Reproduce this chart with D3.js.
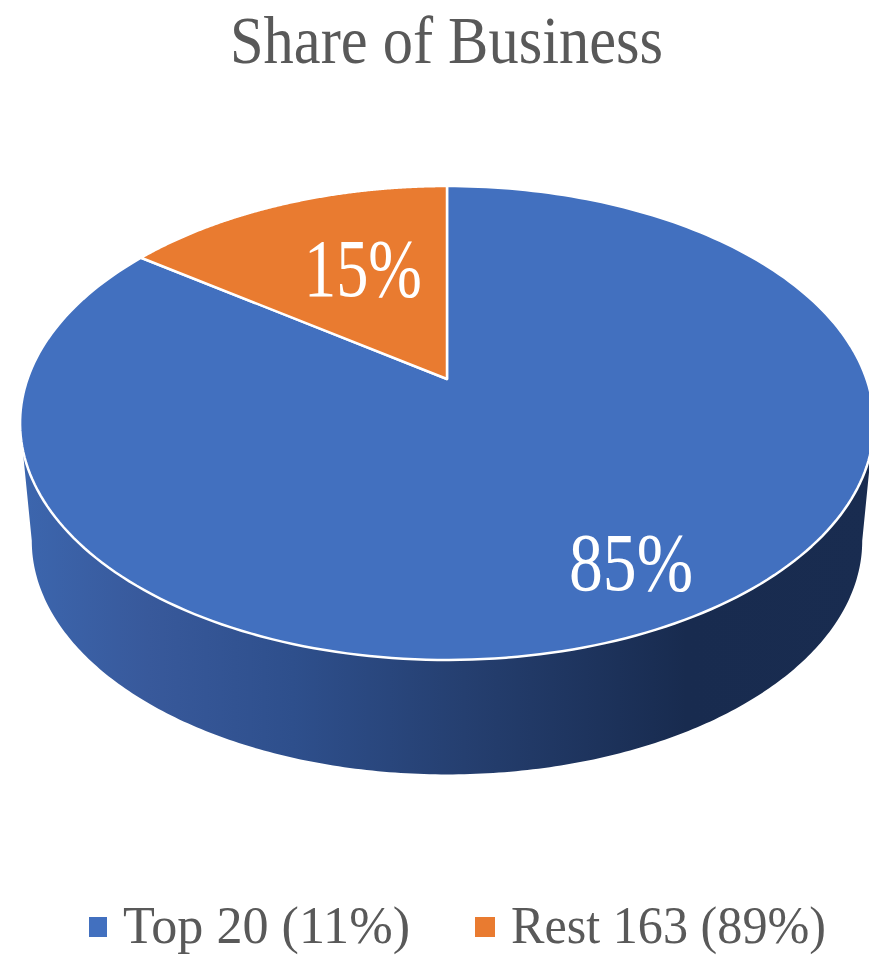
<!DOCTYPE html>
<html>
<head>
<meta charset="utf-8">
<script src="https://cdn.jsdelivr.net/npm/d3@7"></script>
<style>
html,body{margin:0;padding:0;background:#fff;overflow:hidden}
text{font-family:"Liberation Serif",serif}
</style>
</head>
<body>
<svg id="chart" width="869" height="956"></svg>
<script>
// Chart content
const chartTitle = "Share of Business";
const categories = ["Top 20 (11%)", "Rest 163 (89%)"];
const shareValues = [85, 15];
const sliceColors = ["#4270BF", "#E97B30"];

const svg = d3.select("#chart");
const TAU = Math.PI * 2;

// Tilted disc: a projective map of the unit circle, so the pie's apex sits
// above the middle of the ellipse as it does in a perspective view.
const cx = 447;
const topFace = {apexY: 379, spanX: 419.5, spanY: 228.8, k: -0.1857};
const baseFace = {apexY: 497.5, spanX: 408, spanY: 225.5, k: -0.1857};

const project = (face, a) => {
  const u = Math.sin(a), v = -Math.cos(a);
  const w = 1 + face.k * v;
  return [cx + face.spanX * u / w, face.apexY + face.spanY * v / w];
};
const sampleArc = (face, a0, a1, n = 240) =>
  d3.range(n + 1).map(i => project(face, a0 + (a1 - a0) * i / n));

const pie = d3.pie().sort(null).startAngle(0).endAngle(TAU);
const slices = pie(shareValues);
const line = d3.line();

// Wall gradient runs left to right across the visible side of the disc
const defs = svg.append("defs");
const wallGradient = defs.append("linearGradient")
  .attr("id", "wall")
  .attr("gradientUnits", "userSpaceOnUse")
  .attr("x1", 20).attr("x2", 874).attr("y1", 0).attr("y2", 0);
[[0, "#3C66AE"], [0.15, "#38599B"], [0.32, "#2E4F8C"], [0.52, "#253F70"], [0.78, "#182B4F"], [1, "#192C50"]]
  .forEach(([o, c]) => wallGradient.append("stop").attr("offset", o).attr("stop-color", c));

// Side wall between the silhouette points of the top and base rims
const silhouette = Math.acos(topFace.k);
const front0 = silhouette, front1 = TAU - silhouette;
const wallPoints = sampleArc(topFace, front0, front1)
  .concat(sampleArc(baseFace, front1, front0));
svg.append("path")
  .attr("d", line(wallPoints) + "Z")
  .attr("fill", "url(#wall)");

// Top face slices
svg.append("g").selectAll("path")
  .data(slices)
  .join("path")
  .attr("d", d => line([[cx, topFace.apexY], ...sampleArc(topFace, d.startAngle, d.endAngle)]) + "Z")
  .attr("fill", (d, i) => sliceColors[i])
  .attr("stroke", "#fff")
  .attr("stroke-width", 2.5)
  .attr("stroke-linejoin", "round");

// Fitted text helper: the face is narrower than the stock serif
const fitted = (x, y, size, width, str, fill) =>
  svg.append("text")
    .attr("x", x).attr("y", y)
    .attr("font-size", size)
    .attr("textLength", width)
    .attr("lengthAdjust", "spacingAndGlyphs")
    .attr("fill", fill)
    .text(str);

fitted(230, 63, 68, 433, chartTitle, "#595959");

// Value labels on the slices
const labelSpots = [[569, 590, 124], [304, 296, 118]];
slices.forEach((d, i) => {
  const [x, y, w] = labelSpots[i];
  fitted(x, y, 82, w, `${d.value}%`, "#fff");
});

// Legend
const legendSpots = [
  {sx: 89, sw: 18, tx: 123, tw: 287},
  {sx: 475, sw: 20, tx: 511, tw: 315}
];
categories.forEach((c, i) => {
  const s = legendSpots[i];
  svg.append("rect")
    .attr("x", s.sx).attr("y", 917)
    .attr("width", s.sw).attr("height", 20)
    .attr("fill", sliceColors[i]);
  fitted(s.tx, 943, 52, s.tw, c, "#595959");
});
</script>
</body>
</html>
